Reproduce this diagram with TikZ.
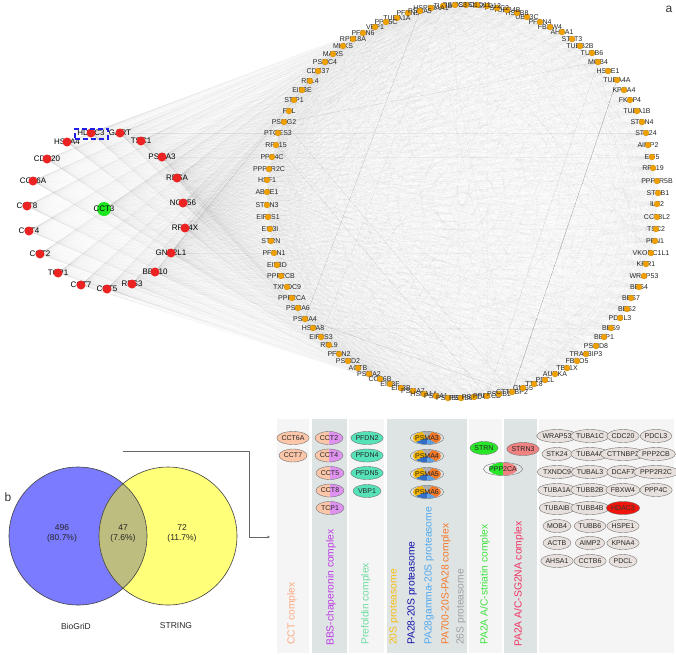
\documentclass[tikz,border=0pt]{standalone}
\usepackage{fontspec}
\setmainfont{Liberation Sans}
\usetikzlibrary{shapes.geometric,backgrounds,arrows.meta}
\definecolor{dotorange}{RGB}{240,160,0}
\definecolor{dotred}{RGB}{235,35,35}
\definecolor{dotgreen}{RGB}{30,230,30}
\definecolor{vennblue}{RGB}{123,123,255}
\definecolor{vennyellow}{RGB}{255,255,122}
\definecolor{vennmid}{RGB}{189,189,128}
\definecolor{peach}{RGB}{252,198,168}
\definecolor{violetc}{RGB}{224,146,240}
\definecolor{aqua}{RGB}{86,226,184}
\definecolor{strngreen}{RGB}{40,230,40}
\definecolor{strnpink}{RGB}{240,130,130}
\definecolor{othergray}{RGB}{232,224,220}
\definecolor{hdacred}{RGB}{240,20,10}
\definecolor{collight}{RGB}{245,245,245}
\definecolor{coldark}{RGB}{222,227,227}
\definecolor{tcct}{RGB}{250,170,130}
\definecolor{tbbs}{RGB}{190,60,230}
\definecolor{tpfd}{RGB}{110,220,160}
\definecolor{tts}{RGB}{245,190,20}
\definecolor{tpa}{RGB}{20,20,170}
\definecolor{tpag}{RGB}{80,170,240}
\definecolor{tpaseven}{RGB}{245,120,40}
\definecolor{tts6}{RGB}{160,160,160}
\definecolor{tstr}{RGB}{60,225,60}
\definecolor{tsg}{RGB}{240,50,100}
\definecolor{pgray}{RGB}{175,175,175}
\definecolor{pyellow}{RGB}{245,180,0}
\definecolor{pblue}{RGB}{50,110,200}
\definecolor{plblue}{RGB}{90,160,230}
\definecolor{porange}{RGB}{240,120,40}
\definecolor{selblue}{RGB}{30,30,230}
\tikzset{
 cdot/.style={circle, fill=dotorange, draw=dotorange!80!black, line width=0.2pt, minimum size=6pt, inner sep=0pt},
 clab/.style={font=\fontsize{7}{8}\selectfont, text=black!85, inner sep=0pt},
 rdot/.style={circle, fill=dotred, minimum size=9pt, inner sep=0pt},
 gdot/.style={circle, fill=dotgreen, minimum size=14pt, inner sep=0pt},
 rlab/.style={font=\fontsize{8}{9}\selectfont, text=black, inner sep=0pt},
 fanedge/.style={draw=black, opacity=0.02, line width=0.3pt},
 chord/.style={draw=black, opacity=0.016, line width=0.3pt},
 cx/.style={ellipse, draw=black!55, line width=0.4pt, minimum width=28pt, minimum height=13pt, inner sep=0pt, font=\fontsize{7}{8}\selectfont, text=black!85},
 vtext/.style={rotate=90, anchor=west, font=\fontsize{10.3}{11}\selectfont, inner sep=0pt},
 vennlab/.style={font=\fontsize{8.5}{10}\selectfont, text=black!85, inner sep=0pt, align=center},
 panellab/.style={font=\fontsize{12}{13}\selectfont, text=black!80, inner sep=0pt},
}
\newcommand\halfell[6]{%
 \begin{scope}
 \clip (#2,#3) ellipse (14pt and 6.5pt);
 \fill[#4] (#2-15,#3-8) rectangle (#2,#3+8);
 \fill[#5] (#2,#3-8) rectangle (#2+15,#3+8);
 \end{scope}
 \node[cx] (#1) at (#2,#3) {#6};
}
\newcommand\pieell[4]{%
 \begin{scope}
 \clip (#2,#3) ellipse (14pt and 6.5pt);
 \fill[pgray] (#2,#3) -- ++(50:18pt) arc[start angle=50,end angle=130,radius=18pt] -- cycle;
 \fill[pyellow] (#2,#3) -- ++(130:18pt) arc[start angle=130,end angle=200,radius=18pt] -- cycle;
 \fill[pblue] (#2,#3) -- ++(200:18pt) arc[start angle=200,end angle=275,radius=18pt] -- cycle;
 \fill[plblue] (#2,#3) -- ++(275:18pt) arc[start angle=275,end angle=330,radius=18pt] -- cycle;
 \fill[porange] (#2,#3) -- ++(330:18pt) arc[start angle=330,end angle=410,radius=18pt] -- cycle;
 \end{scope}
 \node[cx] (#1) at (#2,#3) {#4};
}
\begin{document}
\begin{tikzpicture}[x=1pt,y=-1pt]
\useasboundingbox (0,0) rectangle (676,654);

% ---------- panel a : cluster ----------
\foreach \nm/\x/\y in {HDAC3/91/133, GART/120/133, HSPA4/67/142, TSC1/141/141, CDC20/47/159, PSMA3/162/157, CCT6A/33/181, RPSA/177/178, CCT8/27/206, NOP56/183/203, CCT4/29/231, RPS4X/185/228, CCT2/40/254, GNB2L1/171/253, TCP1/58/273, BBS10/155/272, CCT7/81/285, CCT5/107/289, RPS3/132/284} {
  \node[rlab] (\nm-l) at (\x,\y) {\nm};
  \node[rdot] (\nm) at (\x,\y) {};
}
\node[gdot] (CCT3) at (104,209) {};
\node[rlab] (CCT3-l) at (104,209) {CCT3};
\node[draw=selblue, line width=2pt, dash pattern=on 5pt off 3pt, minimum width=33pt, minimum height=10pt, inner sep=0pt] (hdacsel) at (91,133.5) {};

% ---------- panel a : circle ----------
\foreach \lab/\x/\y [count=\i] in {PFDN5/408/13, TUBA1A/397/18, PPP5C/386/22, VBP1/375/27, PFDN6/363/33, RPL18A/353/39, MKKS/343/46, MARS/333/54, PSMC4/325/62, CDC37/318/71, RPL4/310/81, EIF3E/302/90, STIP1/294/100, FBL/289/111, PSMG2/284/122, PTGES3/278/133, RPL15/276/145, PPP4C/272/157, PPP2R2C/269/169, HSF1/267/180, ABCE1/267/192, STRN3/267/205, EIF2S1/268/217, EIF3I/270/229, STRN/271/241, PFDN1/274/253, EIF3D/277/265, PPP2CB/281/276, TXNDC9/287/287, PPP2CA/292/298, PSMA6/298/308, PSMA4/305/319, HSPA8/313/328, EIF2S3/321/337, RPL9/329/345, PFDN2/339/354, PSMD2/348/361, ACTB/358/368, PSMA2/369/374, CCT6B/380/379, EIF3F/390/384, EIF3B/401/388, PSMA7/413/391, HSPA1A/424/394, PSMA1/436/396, PSMB5/448/398, PSMB6/461/398, PSMD4/474/397, PPP1CB/487/396, PSMB1/499/394, CTTNBP2/512/392, GNG5/523/388, TTC8/534/384, PDCL/545/380, AURKA/555/374, TBL1X/567/368, FBXO5/577/361, TRAF3IP3/586/354, PSMD8/596/346, BBIP1/604/337, BBS9/611/328, PDCL3/620/318, BBS2/627/309, BBS7/631/298, BBS4/639/287, WRAP53/644/276, KRR1/646/264, VKORC1L1/651/253, PFN1/655/241, TSC2/656/229, CCT8L2/657/217, ILF2/657/204, STUB1/658/193, PPP2R5B/657/181, RPL19/653/168, EIF5/652/157, AIMP2/648/145, STK24/646/133, STRN4/642/122, TUBA1B/637/111, FKBP4/630/100, KPNA4/624/90, TUBA4A/617/80, HSPE1/608/71, MOB4/598/62, TUBB6/592/53, TUBB2B/580/46, STAT3/572/39, AHSA1/562/32, FBXW4/550/27, PFDN4/540/22, UBE3C/527/17, HSPB8/517/13, TUBB4B/507/10, PSMC2/497/8, PSMD12/487/6, PSMD11/477/5, PSMC1/466/5, PSMC3/455/5, TUBB/443/6, HSP90AA1/431/8, PSMA5/420/11} {
  \node[clab] (cl\i) at (\x,\y) {\lab};
  \node[cdot] (c\i) at (\x,\y) {};
}

\begin{pgfonlayer}{background}
\foreach \a in {HDAC3,GART,HSPA4,TSC1,CDC20,PSMA3,CCT6A,RPSA,CCT8,NOP56,CCT4,RPS4X,CCT2,GNB2L1,TCP1,BBS10,CCT7,CCT5,RPS3,CCT3} {
  \foreach \j in {1,...,102} { \draw[fanedge] (\a) -- (c\j); }
}
\foreach \k in {1,...,22} {
  \foreach \j in {1,...,102} {
    \pgfmathtruncatemacro\m{mod(mod(\j*\k,102)*7+\k*31+\j*3+5,102)+1}
    \draw[chord] (c\j) -- (c\m);
  }
}
\end{pgfonlayer}

\node[panellab] (la) at (669,9) {a};
\node[panellab] (lb) at (8,497) {b};

% ---------- panel b : Venn ----------
\fill[vennblue] (78,536) circle (69pt);
\fill[vennyellow] (168,536) circle (69pt);
\begin{scope}
\clip (78,536) circle (69pt);
\fill[vennmid] (168,536) circle (69pt);
\end{scope}
\node[circle, draw=black!75, line width=0.6pt, minimum size=138pt, inner sep=0pt] (bio) at (78,536) {};
\node[circle, draw=black!75, line width=0.6pt, minimum size=138pt, inner sep=0pt] (str) at (168,536) {};
\node[vennlab] (v1) at (62,533.5) {496\\[0pt](80.7\%)};
\node[vennlab] (v2) at (123,533.5) {47\\[0pt](7.6\%)};
\node[vennlab] (v3) at (182,533.5) {72\\[0pt](11.7\%)};
\node[vennlab] (bioname) at (76,626) {BioGriD};
\node[vennlab] (strname) at (176,626) {STRING};
\coordinate (brA) at (123,451);
\coordinate (brB) at (249,451);
\coordinate (brC) at (249,537);
\coordinate (brD) at (270,537);
\draw[black!60, line width=0.5pt, -{Stealth[length=3pt,width=2.5pt]}] (brA) -- (brB) -- (brC) -- (brD);

% ---------- panel b : complexes ----------
\fill[collight] (277,419) rectangle (309,653);
\fill[coldark] (312,419) rectangle (347,653);
\fill[collight] (349,419) rectangle (384,653);
\fill[coldark] (387,419) rectangle (467,653);
\fill[collight] (469,419) rectangle (502,653);
\fill[coldark] (504,419) rectangle (537,653);
\fill[collight] (539,419) rectangle (674,653);

\node[cx, fill=peach] (bCCT6A) at (293,438) {CCT6A};
\node[cx, fill=peach] (bCCT7) at (293,455.5) {CCT7};
\halfell{bCCT2}{329}{438}{peach}{violetc}{CCT2}
\halfell{bCCT4}{329}{455.5}{peach}{violetc}{CCT4}
\halfell{bCCT5}{330}{473}{peach}{violetc}{CCT5}
\halfell{bCCT8}{330}{490.5}{peach}{violetc}{CCT8}
\halfell{bTCP1}{330}{508}{peach}{violetc}{TCP1}
\node[cx, fill=aqua] (bPFDN2) at (367,438) {PFDN2};
\node[cx, fill=aqua] (bPFDN4) at (367,455.5) {PFDN4};
\node[cx, fill=aqua] (bPFDN5) at (367,473) {PFDN5};
\node[cx, fill=aqua] (bVBP1) at (367,491) {VBP1};
\pieell{bPSMA3}{427}{438}{PSMA3}
\pieell{bPSMA4}{427}{456}{PSMA4}
\pieell{bPSMA5}{427}{474}{PSMA5}
\pieell{bPSMA6}{427}{492}{PSMA6}
\node[cx, fill=strngreen] (bSTRN) at (484,448) {STRN};
\node[cx, fill=strnpink] (bSTRN3) at (523,449) {STRN3};
\halfell{bPPP2CA}{503}{469}{strngreen}{strnpink}{PPP2CA}

\node[vtext, text=tcct] (tCCT) at (292,645) {CCT complex};
\node[vtext, text=tbbs] (tBBS) at (331,646) {BBS-chaperonin complex};
\node[vtext, text=tpfd] (tPFD) at (366,645) {Prefoldin complex};
\node[vtext, text=tts] (t20S) at (394,645) {20S proteasome};
\node[vtext, text=tpa] (tPA28) at (412,645) {PA28-20S proteasome};
\node[vtext, text=tpag] (tPAG) at (429,645) {PA28gamma-20S proteasome};
\node[vtext, text=tpaseven] (tPA700) at (446,645) {PA700-20S-PA28 complex};
\node[vtext, text=tts6] (t26S) at (461,645) {26S proteasome};
\node[vtext, text=tstr] (tSTR) at (485,645) {PA2A A/C-striatin complex};
\node[vtext, text=tsg] (tSG) at (519,647) {PA2A A/C-SG2NA complex};

\foreach \lab/\x/\y in {WRAP53/557/436, TUBA1C/590/436, CDC20/623/436, PDCL3/656/436,
  STK24/557/454, TUBA4A/590/454, CTTNBP2/623/454, PPP2CB/656/454,
  TXNDC9/557/472, TUBAL3/590/472, DCAF7/623/472, PPP2R2C/656/472,
  TUBA1A/557/490, TUBB2B/590/490, FBXW4/623/490, PPP4C/656/490,
  TUBAIB/557/508, TUBB4B/590/508,
  MOB4/557/526, TUBB6/590/526, HSPE1/623/526,
  ACTB/557/543, AIMP2/590/543, KPNA4/623/543,
  AHSA1/557/561, CCTB6/590/561, PDCL/623/561} {
  \node[cx, fill=othergray] (o\lab) at (\x,\y) {\lab};
}
\node[cx, fill=hdacred, text=black!80] (oHDAC3) at (623,508) {HDAC3};
\end{tikzpicture}
\end{document}
